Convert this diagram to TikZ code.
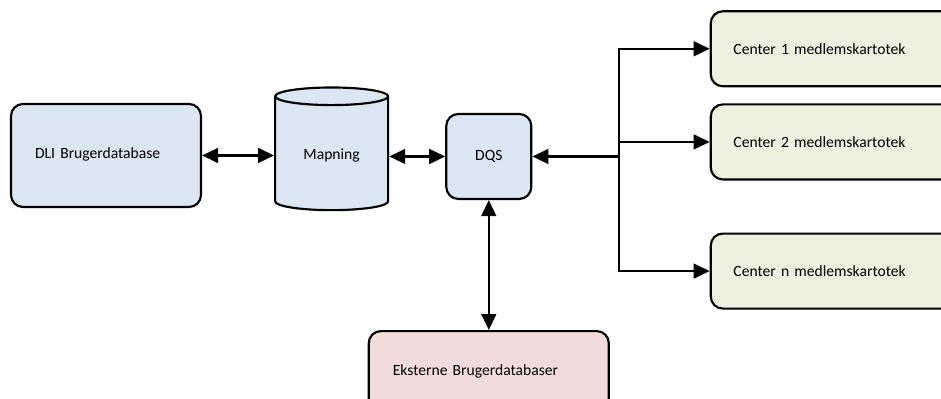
\documentclass[tikz,border=0pt]{standalone}
\usepackage{fontspec}
\setmainfont{Carlito}
\usetikzlibrary{positioning}
\usetikzlibrary{shapes.geometric}
\usetikzlibrary{arrows.meta}
\definecolor{boxblue}{HTML}{DCE6F2}
\definecolor{boxgreen}{HTML}{EBF1DE}
\definecolor{boxred}{HTML}{F2DCDB}
\tikzset{
    block/.style={
           rectangle,
           rounded corners=9pt,
           draw=black, line width=1.6pt,
           inner sep=2pt,
           font=\fontsize{11.7}{14}\selectfont,
           },
    store/.style={
           cylinder,
           shape border rotate=90,
           aspect=0.27,
           draw=black, line width=1.6pt,
           fill=boxblue,
           minimum width=84.75pt,
           minimum height=92pt,
           font=\fontsize{11.7}{14}\selectfont,
           },
    centerbox/.style={
           block, fill=boxgreen,
           align=left, inner xsep=17pt,
           text width=153.5pt,
           minimum height=56.25pt,
           },
    link/.style={line width=1.8pt, -{Triangle[length=12pt,width=11pt]}},
    twolink/.style={line width=1.8pt, {Triangle[length=12pt,width=11pt]}-{Triangle[length=12pt,width=11pt]}},
}
\begin{document}
\begin{tikzpicture}
	\useasboundingbox (0,0) rectangle (705.75pt,-299.25pt);
	\node[block, fill=boxblue, align=left, inner xsep=18pt, text width=106.5pt, minimum height=77.25pt] (dli) at (79.5pt,-116.6pt) {\raisebox{4pt}{DLI Brugerdatabase}};
	\node[store, right=54pt of dli, yshift=0pt] (map) {Mapning};
	\node[block, fill=boxblue, minimum width=63.75pt, minimum height=63.75pt, right=42pt of map, yshift=-0.75pt] (dqs) {DQS};

	%centre registers
	\node[centerbox, right=133pt of dqs, yshift=10.9pt] (c2) {Center 2 medlemskartotek};
	\node[centerbox, above=12pt of c2] (c1) {Center 1 medlemskartotek};
	\node[centerbox, below=39pt of c2] (cn) {Center n medlemskartotek};

	\node[block, fill=boxred, align=left, inner xsep=18pt, text width=144pt, minimum height=60pt, below=97.5pt of dqs] (ext) {Eksterne Brugerdatabaser};

	%EDGES
	\draw[twolink] (dli.east) -- (dli.east -| map.west);
	\draw[twolink] (map.east |- dqs.west) -- (dqs.west);
	\draw[twolink] (dqs.south) -- (dqs.south |- ext.north);

	\coordinate[right=65pt of dqs.east] (split);
	\draw[link] (split) -- (dqs.east);
	\draw[link] (split) |- (c1.west);
	\draw[link] (split) |- (c2.west);
	\draw[link] (split) |- (cn.west);
\end{tikzpicture}
\end{document}
